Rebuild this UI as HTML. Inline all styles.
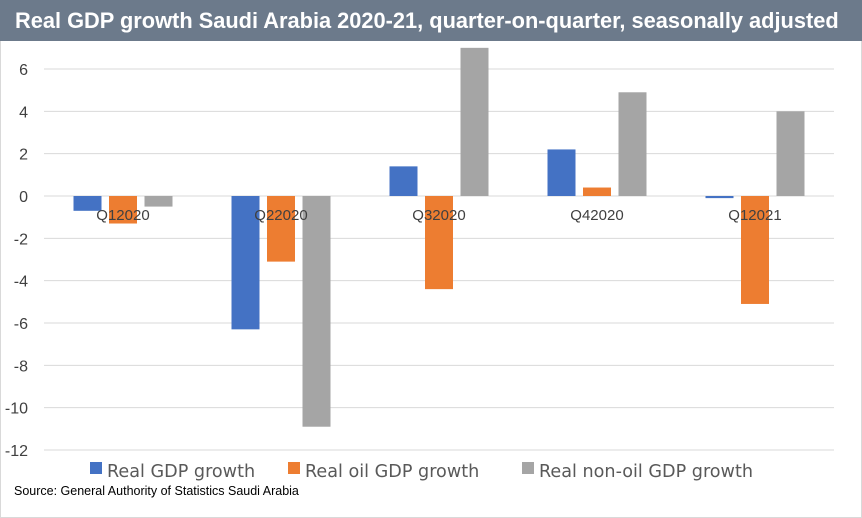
<!DOCTYPE html>
<html><head><meta charset="utf-8"><style>
body{margin:0;width:862px;height:518px;overflow:hidden;background:#fff;font-family:"Liberation Sans",sans-serif}
#wrap{position:absolute;left:0;top:0;width:860px;height:516px;border:1px solid #d9d9d9}
#title{position:absolute;left:0;top:0;width:862px;height:41px;background:#6c7a8b;color:#fff;font-weight:bold;font-size:21.8px;line-height:41px;padding-left:15px;box-sizing:border-box;white-space:nowrap}
#src{position:absolute;left:14px;top:484px;font-size:12.5px;color:#000}
</style></head><body>
<div id="wrap"></div>
<div id="title">Real GDP growth Saudi Arabia 2020-21, quarter-on-quarter, seasonally adjusted</div>
<svg id="chart" width="862" height="518" style="position:absolute;left:0;top:0"></svg>
<div id="src">Source: General Authority of Statistics Saudi Arabia</div>
<script>
const categories=["Q12020","Q22020","Q32020","Q42020","Q12021"];
const gdp=[-0.7,-6.3,1.4,2.2,-0.1];
const oil=[-1.3,-3.1,-4.4,0.4,-5.1];
const nonoil=[-0.5,-10.9,7.0,4.9,4.0];
const ticks=[6,4,2,0,-2,-4,-6,-8,-10,-12];
const seriesNames=["Real GDP growth","Real oil GDP growth","Real non-oil GDP growth"];
const colors=["#4472c4","#ed7d31","#a5a5a5"];
const svg=document.getElementById('chart');const NS='http://www.w3.org/2000/svg';
const x0=44,x1=834,yTop=69,yBot=450,vMax=6,vMin=-12;
const y=v=>yTop+(vMax-v)*(yBot-yTop)/(vMax-vMin);
const cw=(x1-x0)/categories.length;
const xc=i=>x0+cw*(i+0.5);
function mk(t,a){const e=document.createElementNS(NS,t);for(const k in a)e.setAttribute(k,a[k]);svg.appendChild(e);return e;}
ticks.forEach(t=>{
 const l=mk('line',{x1:x0,x2:x1,y1:y(t),y2:y(t),stroke:'#d9d9d9','stroke-width':1});
 
 
 const tx=mk('text',{x:28,y:y(t)+6,'text-anchor':'end','font-size':16,fill:'#404040','font-family':'Liberation Sans, sans-serif'});
 tx.textContent=t;
 
 
});
const series=[gdp,oil,nonoil];const bw=28,gap=7.5;
categories.forEach((c,i)=>{
 series.forEach((s,j)=>{
  const v=s[i];const bx=xc(i)+(j-1)*(bw+gap)-bw/2;
  const r=mk('rect',{x:bx,y:Math.min(y(v),y(0)),width:bw,height:Math.abs(y(v)-y(0)),fill:colors[j]});
  
  
 });
});
categories.forEach((c,i)=>{
 const t=mk('text',{x:xc(i),y:y(0)+24,'text-anchor':'middle','font-size':15,fill:'#404040','font-family':'Liberation Sans, sans-serif'});
 t.textContent=c;
 
 
});
const lx=[90,288,522];
seriesNames.forEach((n,j)=>{
 const r=mk('rect',{x:lx[j],y:462,width:12,height:12,fill:colors[j]});
 
 
 const t=mk('text',{x:lx[j]+17,y:477,'font-size':17.6,fill:'#595959','font-family':'DejaVu Sans, Liberation Sans, sans-serif'});
 t.textContent=n;
 
 
});
</script>
</body></html>
